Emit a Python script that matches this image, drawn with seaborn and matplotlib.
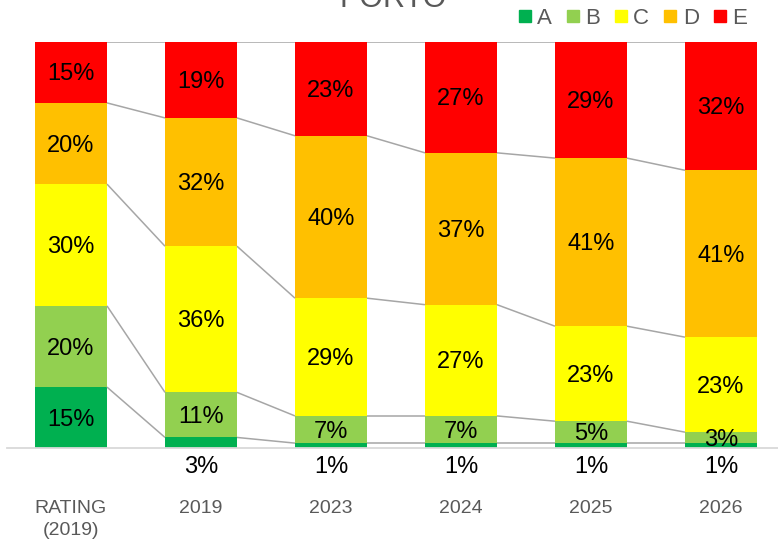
import matplotlib
matplotlib.use("Agg")
import matplotlib.pyplot as plt
from matplotlib.lines import Line2D
import seaborn as sns
import pandas as pd

categories = ["RATING\n(2019)", "2019", "2023", "2024", "2025", "2026"]
series_names = ["A", "B", "C", "D", "E"]
A = [15, 2.6, 1.2, 1.2, 1.2, 1.2]
B = [20, 11.1, 6.7, 6.7, 5.4, 2.7]
C = [30, 36.0, 29.0, 27.4, 23.4, 23.4]
D = [20, 31.6, 40.0, 37.4, 41.4, 41.1]
E = [15, 18.7, 23.1, 27.3, 28.6, 31.6]
colors = ["#00B050", "#92D050", "#FFFF00", "#FFC000", "#FF0000"]
title = "PORTO"

sns.set_style("white")
plt.rcParams["font.family"] = ["Liberation Sans", "DejaVu Sans"]

W, H = 778, 541
fig = plt.figure(figsize=(W / 100, H / 100), dpi=100)
ax = fig.add_axes([7 / W, (H - 448) / H, (W - 7) / W, 406 / H])

series = [A, B, C, D, E]
n = len(categories)
cum = []
running = [0.0] * n
for s in series:
    running = [r + v for r, v in zip(running, s)]
    cum.append(list(running))

bar_w = 72 / 130
df = pd.DataFrame({"cat": categories})
for k in reversed(range(len(series))):
    df["val"] = cum[k]
    sns.barplot(data=df, x="cat", y="val", color=colors[k], width=bar_w,
                saturation=1, linewidth=0, errorbar=None, ax=ax, order=categories)

# connector lines
for i in range(n - 1):
    for k in range(len(series)):
        ax.plot([i + bar_w / 2, i + 1 - bar_w / 2], [cum[k][i], cum[k][i + 1]],
                color="#A6A6A6", lw=1.1, zorder=1, solid_capstyle="butt")

# data labels
for i in range(n):
    for k, s in enumerate(series):
        v = s[i]
        lab = f"{round(v):d}%"
        bottom = cum[k][i] - v
        if k == 0 and i > 0:
            y = -4.7
        else:
            y = bottom + v / 2 - 0.5
        ax.text(i, y, lab, ha="center", va="center", fontsize=17,
                color="black", clip_on=False, zorder=5)

ax.set_xlim(-64 / 130, (W - 71) / 130)
ax.set_ylim(0, 100)
ax.set_yticks([])
ax.set_ylabel("")
ax.set_xlabel("")
ax.set_xticks(range(n))
ax.set_xticklabels(categories, fontsize=14, color="#595959", linespacing=1.35)
ax.tick_params(axis="x", length=0, pad=37.5)
for sp in ["top", "left", "right"]:
    ax.spines[sp].set_visible(False)
ax.spines["bottom"].set_color("#D9D9D9")
ax.spines["bottom"].set_linewidth(1.3)

fig.text(393 / W, 1 - 6.7 / H, title, ha="center", va="baseline",
         fontsize=22, color="#595959")

handles = [Line2D([], [], marker="s", linestyle="", color=c, markersize=9)
           for c in colors]
fig.legend(handles, series_names, loc="center right",
           bbox_to_anchor=(747 / W, 1 - 18 / H), ncol=5, frameon=False,
           fontsize=16, handlelength=0.6, handletextpad=0.25,
           columnspacing=0.65, borderpad=0, borderaxespad=0,
           labelcolor="#595959")

fig.savefig("out.png", dpi=100)
